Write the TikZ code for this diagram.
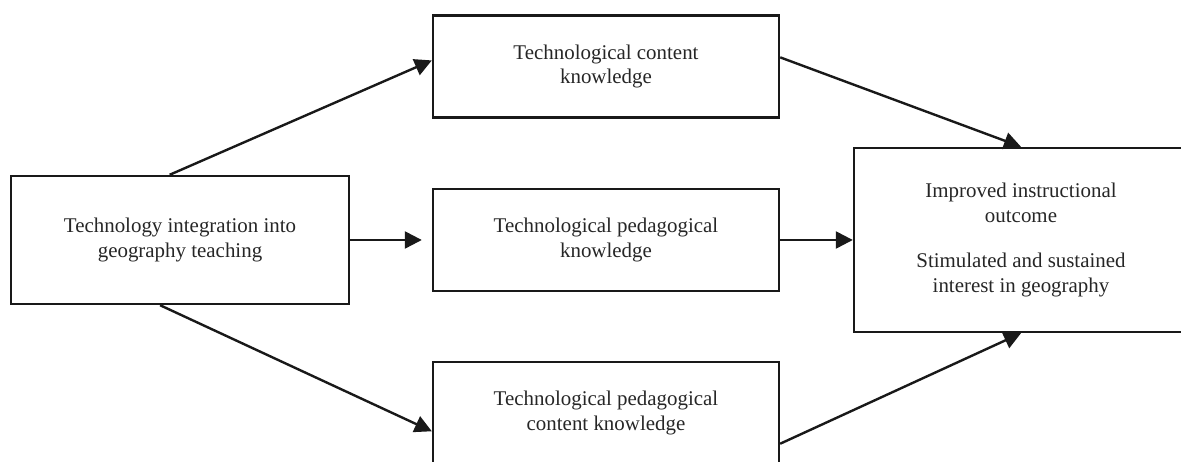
\documentclass[tikz,border=0pt]{standalone}
\usepackage{fontspec}
\setmainfont{Liberation Serif}
\usetikzlibrary{arrows.meta}

\begin{document}
\begin{tikzpicture}[x=1bp,y=1bp,->,>={Triangle[length=17bp,width=17bp]},
                    line width=2.4bp,draw=black!90]
  \tikzstyle{box}=[draw=black!90,rectangle,inner sep=0pt,align=center,
                   text=black!85,font=\fontsize{21}{25}\selectfont]
  \tikzstyle{mid}=[box,minimum width=346bp,minimum height=102bp]

  \useasboundingbox (0,0) rectangle (1181,462);

  \node[box,minimum width=338bp,minimum height=128bp] (tech) at (180,222)
        {Technology integration into\\geography teaching};
  \node[mid] (tck)  at (606,395.5) {Technological content\\knowledge};
  \node[mid] (tpk)  at (606,222)   {Technological pedagogical\\knowledge};
  \node[mid] (tpck) at (606,49)    {Technological pedagogical\\content knowledge};
  \node[box,minimum width=334bp,minimum height=184bp] (out) at (1021,222)
        {Improved instructional\\outcome\\[20bp]Stimulated and sustained\\interest in geography};

  \path (tech.99)  edge (tck.178)
        (tech)     edge [shorten >=10bp] (tpk)
        (tech.253) edge (tpck.186)
        (tck.3)    edge (out.north)
        (tpk)      edge (out)
        (tpck.350) edge (out.south);
\end{tikzpicture}
\end{document}
